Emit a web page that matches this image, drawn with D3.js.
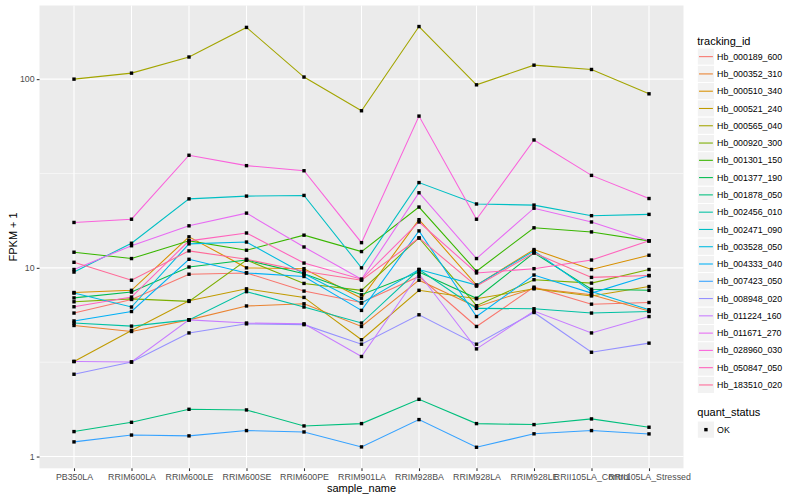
<!DOCTYPE html>
<html>
<head>
<meta charset="utf-8">
<script src="https://cdn.jsdelivr.net/npm/d3@7/dist/d3.min.js"></script>
<style>
  body { margin: 0; background: #fff; }
  text { font-family: "Liberation Sans", Arial, sans-serif; }
</style>
</head>
<body>
<svg width="800" height="500"></svg>
<script>
var samples = ['PB350LA', 'RRIM600LA', 'RRIM600LE', 'RRIM600SE', 'RRIM600PE', 'RRIM901LA',
  'RRIM928BA', 'RRIM928LA', 'RRIM928LE', 'RRII105LA_Control', 'RRII105LA_Stressed'];

var trackingIds = ['Hb_000189_600', 'Hb_000352_310', 'Hb_000510_340', 'Hb_000521_240', 'Hb_000565_040',
  'Hb_000920_300', 'Hb_001301_150', 'Hb_001377_190', 'Hb_001878_050', 'Hb_002456_010',
  'Hb_002471_090', 'Hb_003528_050', 'Hb_004333_040', 'Hb_007423_050', 'Hb_008948_020',
  'Hb_011224_160', 'Hb_011671_270', 'Hb_028960_030', 'Hb_050847_050', 'Hb_183510_020'];

var palette = ['#F8766D', '#EA8331', '#D89000', '#C09B00', '#A3A500', '#7CAE00', '#39B600', '#00BB4E',
  '#00BF7D', '#00C1A3', '#00BFC4', '#00BAE0', '#00B0F6', '#35A2FF', '#9590FF', '#C77CFF',
  '#E76BF3', '#FA62DB', '#FF62BC', '#FF6A98'];

// FPKM + 1, one array per tracking id, in sample order
var hb000189_600 = [5.76, 6.8, 9.25, 9.4, 7.53, 6.55, 9.0, 4.89, 7.9, 6.42, 6.55];
var hb000352_310 = [4.95, 4.6, 5.3, 6.28, 6.45, 4.89, 8.6, 6.2, 7.8, 7.2, 5.9];
var hb000510_340 = [7.4, 7.6, 14.6, 10.0, 9.9, 6.9, 18.0, 8.1, 12.5, 9.8, 11.66];
var hb000521_240 = [3.19, 4.66, 6.7, 7.74, 6.97, 4.16, 7.6, 6.86, 7.74, 7.1, 7.96];
var hb000565_040 = [100, 107.6, 131, 188, 102.6, 68, 190, 93.3, 118.6, 112.5, 83.6];
var hb000920_300 = [6.61, 6.85, 6.64, 11.0, 8.27, 7.6, 14.4, 6.3, 8.65, 8.3, 9.8];
var hb001301_150 = [12.1, 11.2, 13.9, 12.4, 14.9, 12.2, 21.0, 9.6, 16.3, 15.5, 13.9];
var hb001377_190 = [6.93, 7.44, 10.1, 11.0, 9.3, 7.2, 9.5, 6.9, 12.0, 7.7, 7.6];
var hb001878_050 = [1.356, 1.519, 1.78, 1.766, 1.453, 1.495, 2.01, 1.495, 1.477, 1.583, 1.43];
var hb002456_010 = [5.1, 4.91, 5.3, 7.48, 6.2, 5.1, 9.8, 6.1, 6.07, 5.76, 5.87];
var hb002471_090 = [9.5, 13.5, 23.2, 24.0, 24.2, 10.0, 28.3, 21.8, 21.5, 18.9, 19.2];
var hb003528_050 = [7.35, 6.2, 13.4, 13.7, 9.3, 6.5, 9.8, 8.1, 12.3, 7.5, 6.0];
var hb004333_040 = [5.23, 5.87, 11.1, 9.4, 9.0, 5.95, 15.7, 5.52, 9.16, 7.35, 9.1];
var hb007423_050 = [1.196, 1.30, 1.287, 1.373, 1.35, 1.125, 1.57, 1.12, 1.32, 1.373, 1.318];
var hb008948_020 = [2.73, 3.17, 4.52, 5.05, 5.0, 3.94, 5.64, 3.94, 5.8, 3.57, 3.99];
var hb011224_160 = [3.19, 3.17, 5.3, 5.1, 5.05, 3.39, 9.3, 3.72, 5.9, 4.52, 5.52];
var hb011671_270 = [9.8, 13.1, 16.7, 19.5, 12.9, 8.7, 25.0, 11.2, 20.7, 17.5, 13.9];
var hb028960_030 = [17.4, 18.1, 39.5, 34.8, 32.7, 13.6, 63.7, 18.1, 47.6, 30.9, 23.3];
var hb050847_050 = [6.22, 7.0, 13.9, 15.3, 10.6, 8.7, 17.5, 9.4, 9.9, 11.0, 13.9];
var hb183510_020 = [10.7, 8.6, 12.3, 11.1, 9.6, 8.6, 14.4, 8.0, 12.0, 8.9, 9.1];

var seriesValues = [hb000189_600, hb000352_310, hb000510_340, hb000521_240, hb000565_040,
  hb000920_300, hb001301_150, hb001377_190, hb001878_050, hb002456_010,
  hb002471_090, hb003528_050, hb004333_040, hb007423_050, hb008948_020,
  hb011224_160, hb011671_270, hb028960_030, hb050847_050, hb183510_020];

var yTicks = [1, 10, 100];
var yMinorTicks = [3.1623, 31.623];
var statusLevels = ['OK'];

var panel = {left: 39.5, right: 683.5, top: 5.5, bottom: 468.3};

var svg = d3.select('svg');

var series = trackingIds.map(function(id, i) {
  return {
    id: id,
    color: palette[i],
    values: seriesValues[i].map(function(v, j) { return {sample: samples[j], value: v}; })
  };
});

var allValues = d3.merge(seriesValues);
var lo = Math.log10(d3.min(allValues)), hi = Math.log10(d3.max(allValues));
var pad = (hi - lo) * 0.05;

var x = d3.scalePoint()
  .domain(samples)
  .range([panel.left, panel.right])
  .padding(0.6);

var y = d3.scaleLog()
  .domain([Math.pow(10, lo - pad), Math.pow(10, hi + pad)])
  .range([panel.bottom, panel.top]);

// panel + grid
svg.append('rect')
  .attr('x', panel.left).attr('y', panel.top)
  .attr('width', panel.right - panel.left).attr('height', panel.bottom - panel.top)
  .attr('fill', '#EBEBEB');

var grid = svg.append('g');
grid.selectAll('line.minor')
  .data(yMinorTicks)
  .enter().append('line')
  .attr('x1', panel.left).attr('x2', panel.right)
  .attr('y1', function(d) { return y(d); }).attr('y2', function(d) { return y(d); })
  .attr('stroke', '#fff').attr('stroke-width', 0.53);
grid.selectAll('line.hmajor')
  .data(yTicks)
  .enter().append('line')
  .attr('x1', panel.left).attr('x2', panel.right)
  .attr('y1', function(d) { return y(d); }).attr('y2', function(d) { return y(d); })
  .attr('stroke', '#fff').attr('stroke-width', 1.07);
grid.selectAll('line.vmajor')
  .data(samples)
  .enter().append('line')
  .attr('y1', panel.top).attr('y2', panel.bottom)
  .attr('x1', function(d) { return x(d); }).attr('x2', function(d) { return x(d); })
  .attr('stroke', '#fff').attr('stroke-width', 1.07);

// lines
var line = d3.line()
  .x(function(d) { return x(d.sample); })
  .y(function(d) { return y(d.value); });

svg.append('g').selectAll('path')
  .data(series)
  .enter().append('path')
  .attr('d', function(d) { return line(d.values); })
  .attr('fill', 'none')
  .attr('stroke', function(d) { return d.color; })
  .attr('stroke-width', 1.07);

// points
var pts = d3.merge(series.map(function(s) { return s.values; }));
svg.append('g').selectAll('rect')
  .data(pts)
  .enter().append('rect')
  .attr('x', function(d) { return x(d.sample) - 1.7; })
  .attr('y', function(d) { return y(d.value) - 1.7; })
  .attr('width', 3.4).attr('height', 3.4)
  .attr('fill', '#000');

// axes
var xAxis = svg.append('g')
  .attr('transform', 'translate(0,' + panel.bottom + ')')
  .call(d3.axisBottom(x).tickSize(2.75).tickPadding(2.5));
var yAxis = svg.append('g')
  .attr('transform', 'translate(' + panel.left + ',0)')
  .call(d3.axisLeft(y).tickValues(yTicks).tickFormat(d3.format('d')).tickSize(2.75).tickPadding(2.2));

[xAxis, yAxis].forEach(function(ax) {
  ax.select('.domain').remove();
  ax.selectAll('.tick line').attr('stroke', '#333333').attr('stroke-width', 1.07);
  ax.selectAll('.tick text')
    .attr('fill', '#4D4D4D')
    .style('font-size', '8.8px')
    .style('font-family', '"Liberation Sans", Arial, sans-serif');
});

svg.append('text')
  .attr('x', (panel.left + panel.right) / 2).attr('y', 492)
  .attr('text-anchor', 'middle')
  .style('font-size', '11px')
  .text('sample_name');

svg.append('text')
  .attr('transform', 'translate(16.5,' + (panel.top + panel.bottom) / 2 + ') rotate(-90)')
  .attr('text-anchor', 'middle')
  .style('font-size', '11px')
  .text('FPKM + 1');

// legend: tracking_id
var keySize = 17.28, legX = 697.3, legY = 48;
var legend = svg.append('g');
legend.append('text')
  .attr('x', legX).attr('y', 44.5)
  .style('font-size', '11px')
  .text('tracking_id');

var keys = legend.selectAll('g.key')
  .data(series)
  .enter().append('g')
  .attr('transform', function(d, i) { return 'translate(' + legX + ',' + (legY + i * keySize) + ')'; });
keys.append('rect')
  .attr('width', keySize).attr('height', keySize)
  .attr('fill', '#F2F2F2').attr('stroke', '#fff').attr('stroke-width', 1);
keys.append('line')
  .attr('x1', 1.7).attr('x2', keySize - 1.7)
  .attr('y1', keySize / 2).attr('y2', keySize / 2)
  .attr('stroke', function(d) { return d.color; })
  .attr('stroke-width', 1.07);
keys.append('text')
  .attr('x', keySize + 2.5).attr('y', keySize / 2)
  .attr('dy', '0.35em')
  .style('font-size', '8.8px')
  .text(function(d) { return d.id; });

// legend: quant_status
var statusY = 421;
legend.append('text')
  .attr('x', legX).attr('y', 416)
  .style('font-size', '11px')
  .text('quant_status');
var sk = legend.selectAll('g.skey')
  .data(statusLevels)
  .enter().append('g')
  .attr('transform', function(d, i) { return 'translate(' + legX + ',' + (statusY + i * keySize) + ')'; });
sk.append('rect')
  .attr('width', keySize).attr('height', keySize)
  .attr('fill', '#F2F2F2').attr('stroke', '#fff').attr('stroke-width', 1);
sk.append('rect')
  .attr('x', keySize / 2 - 1.7).attr('y', keySize / 2 - 1.7)
  .attr('width', 3.4).attr('height', 3.4)
  .attr('fill', '#000');
sk.append('text')
  .attr('x', keySize + 2.5).attr('y', keySize / 2)
  .attr('dy', '0.35em')
  .style('font-size', '8.8px')
  .text(function(d) { return d; });
</script>
</body>
</html>
